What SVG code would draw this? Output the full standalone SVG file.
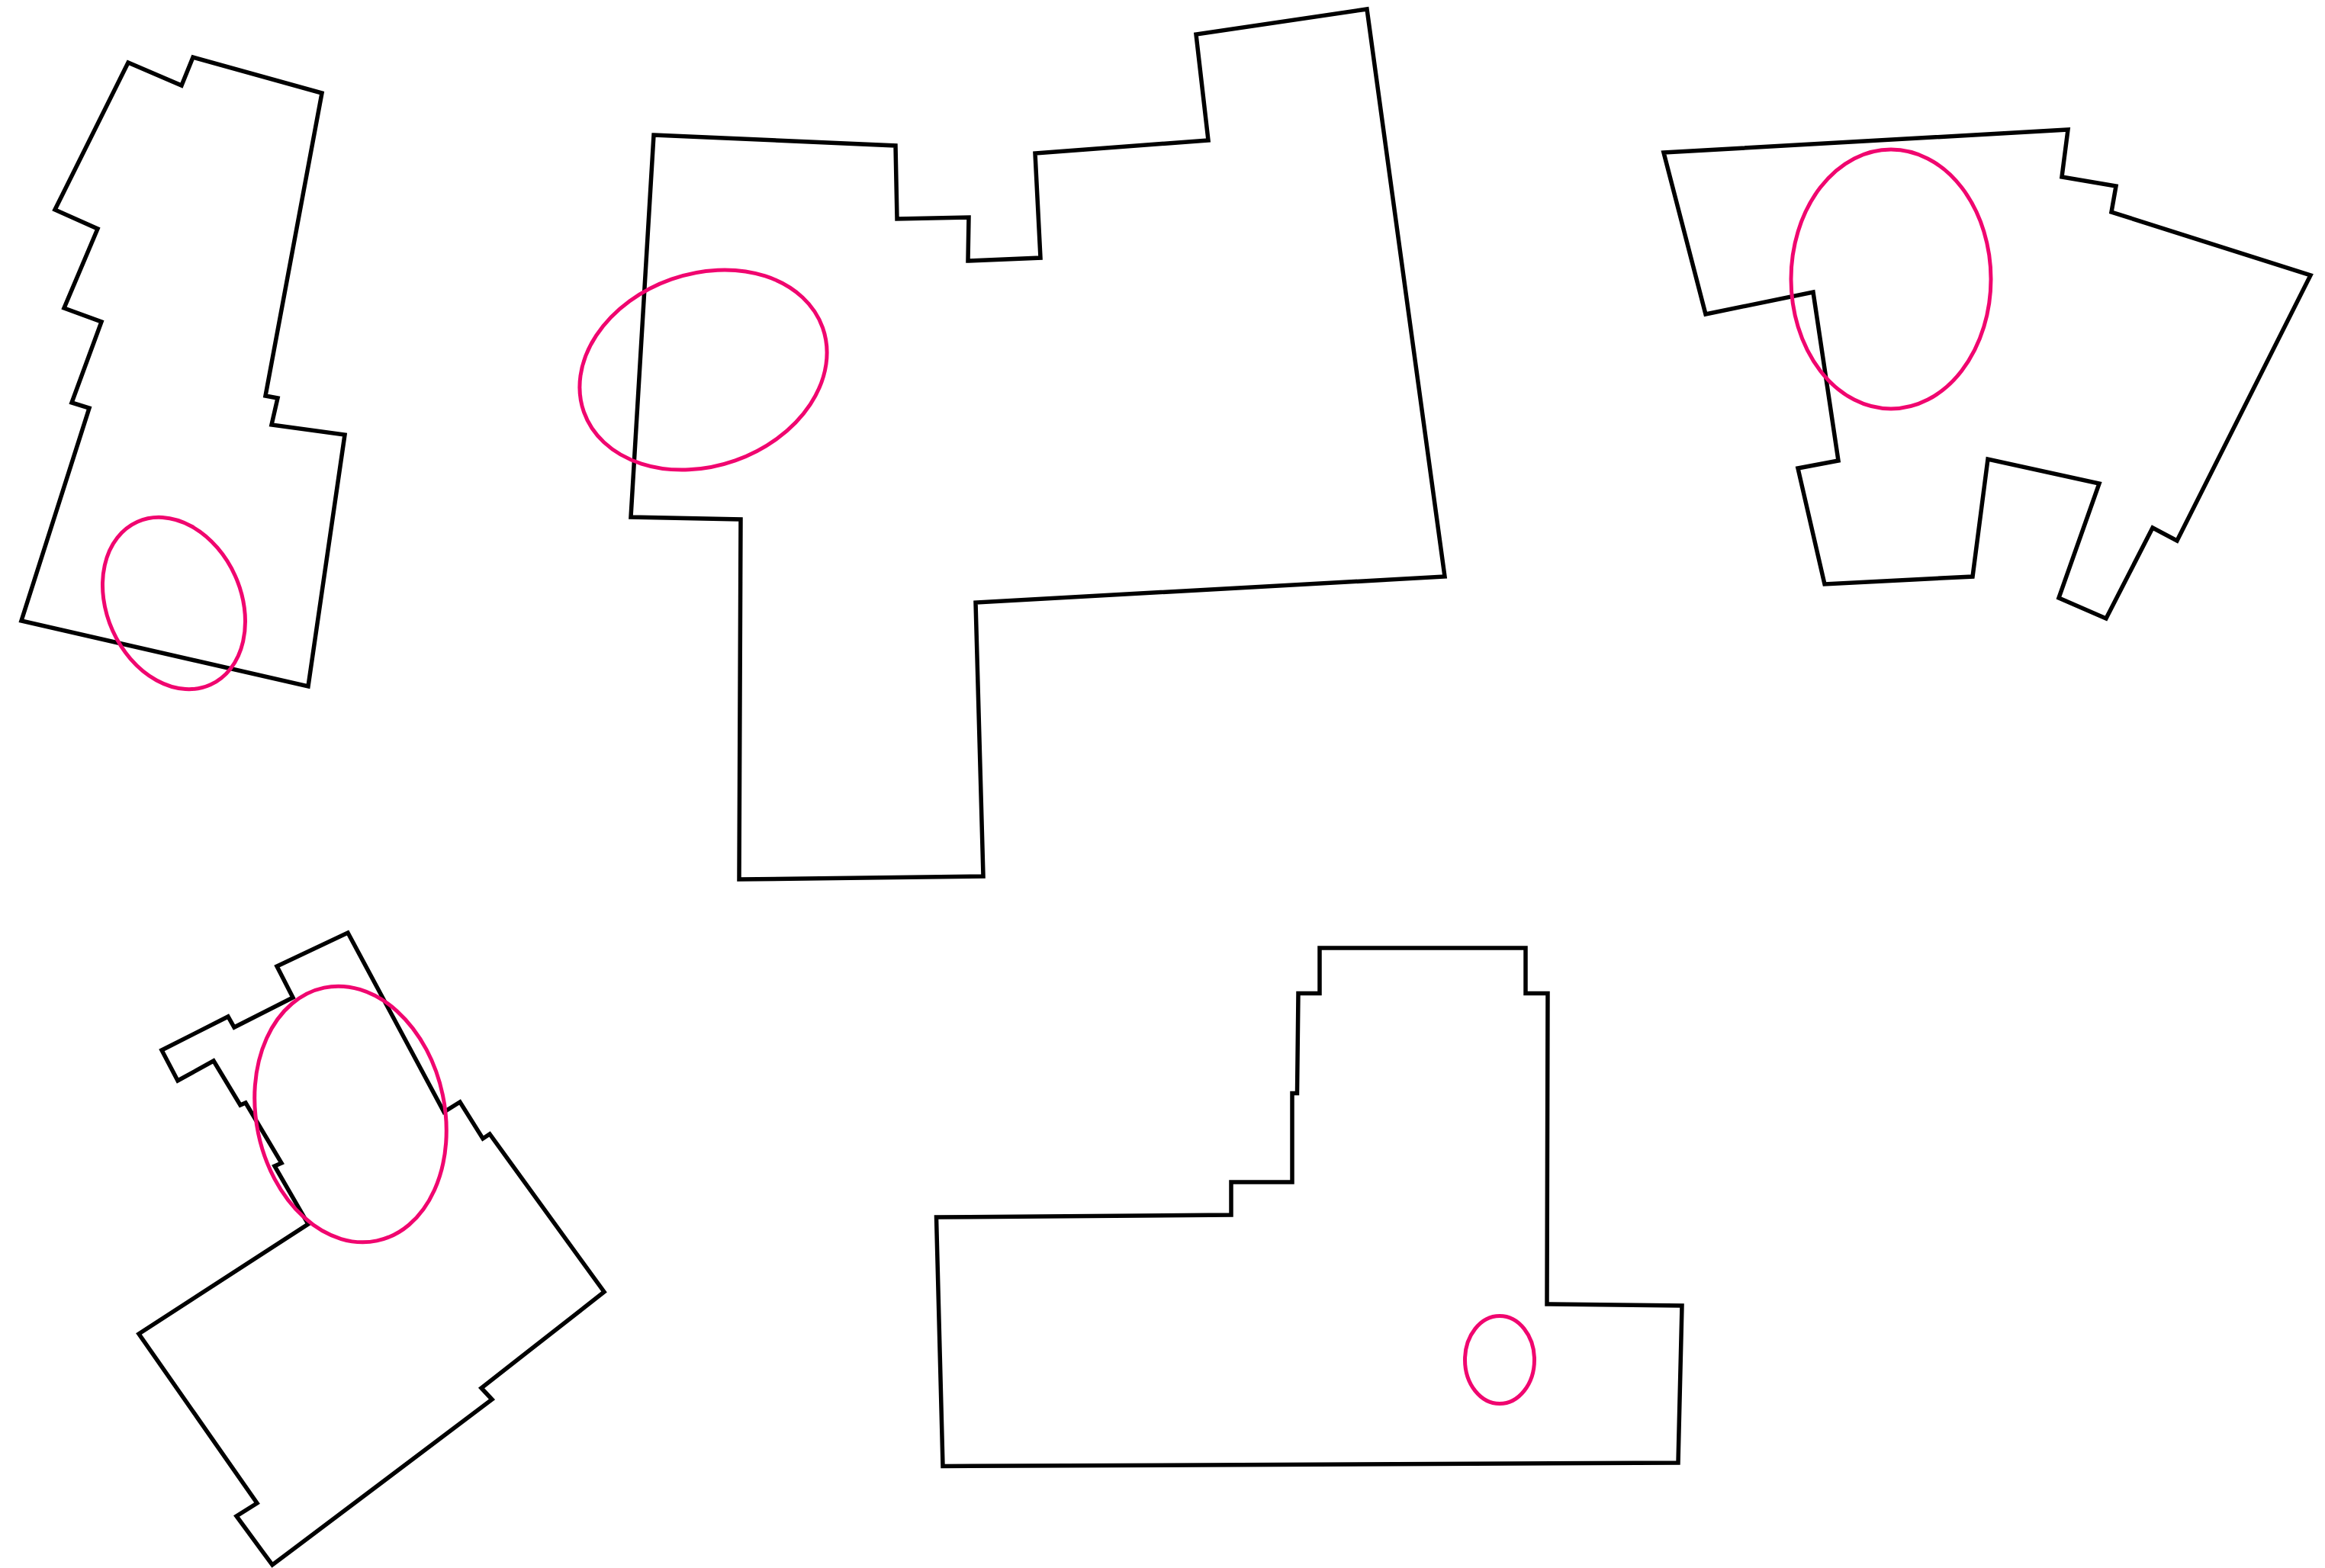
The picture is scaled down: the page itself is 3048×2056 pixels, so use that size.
<svg xmlns="http://www.w3.org/2000/svg" width="3048" height="2056" viewBox="0 0 3048 2056">
<style>
.room{fill:none;stroke:#000;stroke-width:5.5;stroke-linejoin:miter}
.mark{fill:none;stroke:#F0066F;stroke-width:5}
</style>
<rect width="3048" height="2056" fill="#fff"/>
<g id="shape1">
<polygon class="room" points="168,82 238,112 253,75 422,122 348,519 364,522 356,557 452,570 404,900 28,814 117,535 94,528 133,422 84,404 128,300 72,275"/>
<ellipse class="mark" cx="0" cy="0" rx="117" ry="88" transform="translate(228 791) rotate(65.8)"/>
</g>
<g id="shape2">
<polygon class="room" points="857,177 1174,191 1176,287 1270,285 1269,342 1364,338 1357,201 1584,184 1568,45 1792,12 1894,756 1279,790 1289,1149 969,1153 971,681 827,678"/>
<ellipse class="mark" cx="0" cy="0" rx="166" ry="126" transform="translate(922 485) rotate(-19.4)"/>
</g>
<g id="shape3">
<polygon class="room" points="2181,200 2711,170 2703,232 2774,244 2768,278 3029,361 2854,709 2822,692 2761,811 2699,784 2752,634 2606,602 2586,756 2392,766 2357,614 2410,604 2377,383 2236,412"/>
<ellipse class="mark" cx="2479" cy="366" rx="131" ry="170"/>
</g>
<g id="shape4">
<polygon class="room" points="456,1223 582,1458 603,1445 633,1493 642,1487 792,1694 631,1820 645,1835 357,2052 310,1988 337,1971 182,1749 404,1605 360,1529 369,1525 322,1446 315,1449 280,1391 233,1417 212,1377 299,1333 307,1347 384,1308 363,1267"/>
<ellipse class="mark" cx="0" cy="0" rx="123.5" ry="169.5" transform="translate(459.5 1461) rotate(-11.8)"/>
</g>
<g id="shape5">
<polygon class="room" points="1730,1243 2000,1243 2000,1302.5 2029,1302.5 2028,1710 2205,1712 2200,1918 1236,1922.5 1227.5,1596 1614,1593 1614,1550 1694,1550 1694,1433.5 1700.5,1433.5 1702,1302.5 1730,1302.5"/>
<ellipse class="mark" cx="1966" cy="1783" rx="45.5" ry="57.5"/>
</g>
<g id="connectors"/>
</svg>
